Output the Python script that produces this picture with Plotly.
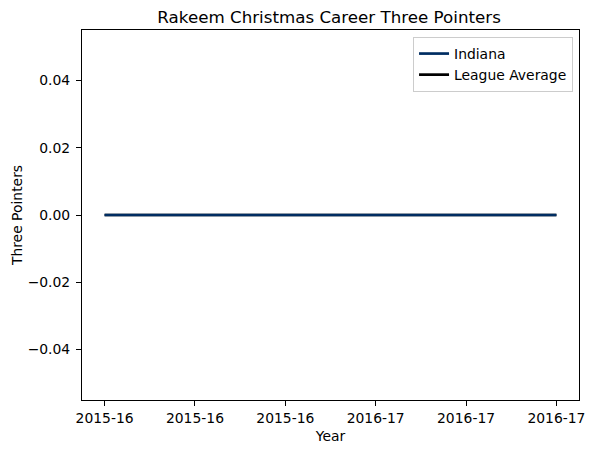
import plotly.graph_objects as go

# Data
season_index = [0, 1]
seasons = ["2015-16", "2016-17"]
indiana_threes = [0.0, 0.0]
league_avg_threes = [0.0, 0.0]

tick_positions = [0.0, 0.2, 0.4, 0.6, 0.8, 1.0]
tick_labels = ["2015-16", "2015-16", "2015-16", "2016-17", "2016-17", "2016-17"]

FONT = "DejaVu Sans, Verdana, sans-serif"
FS = 13.9

fig = go.Figure()
# league average drawn first so Indiana sits on top
fig.add_trace(go.Scatter(x=season_index, y=league_avg_threes, mode='lines', name='League Average',
                         line=dict(color='black', width=2.7), legendrank=2))
fig.add_trace(go.Scatter(x=season_index, y=indiana_threes, mode='lines', name='Indiana',
                         line=dict(color='#002D62', width=2.7), legendrank=1))

axis_style = dict(showline=True, linecolor='black', linewidth=1, mirror=True,
                  ticks='outside', ticklen=5, tickwidth=1, tickcolor='black',
                  showgrid=False, zeroline=False, automargin=False,
                  tickfont=dict(family=FONT, size=FS, color='black'))

fig.update_layout(
    width=593, height=453,
    margin=dict(l=82, r=14, t=30, b=53),
    paper_bgcolor='white', plot_bgcolor='white',
    font=dict(family=FONT, size=FS, color='black'),
    title=dict(text='Rakeem Christmas Career Three Pointers', x=0.555, xanchor='center',
               y=0.962, yanchor='middle', font=dict(family=FONT, size=16.7, color='black')),
    xaxis=dict(range=[-0.05, 1.05], tickvals=tick_positions, ticktext=tick_labels,
               title=dict(text='Year', standoff=6, font=dict(family=FONT, size=FS)), **axis_style),
    yaxis=dict(range=[-0.055, 0.055], tickvals=[-0.04, -0.02, 0, 0.02, 0.04],
               tickformat='.2f', ticklabelstandoff=3,
               title=dict(text='Three Pointers', standoff=1, font=dict(family=FONT, size=FS)),
               **axis_style),
    showlegend=True,
    legend=dict(x=0.988, y=0.981, xanchor='right', yanchor='top',
                bgcolor='rgba(255,255,255,0.8)', bordercolor='#cccccc', borderwidth=1,
                font=dict(family=FONT, size=FS, color='black'), itemwidth=30),
)

# drop the page's default body margin so the figure sits at the window corner
fig.write_html("out.html", config={'displayModeBar': False},
               post_script="document.body.style.margin='0';")
